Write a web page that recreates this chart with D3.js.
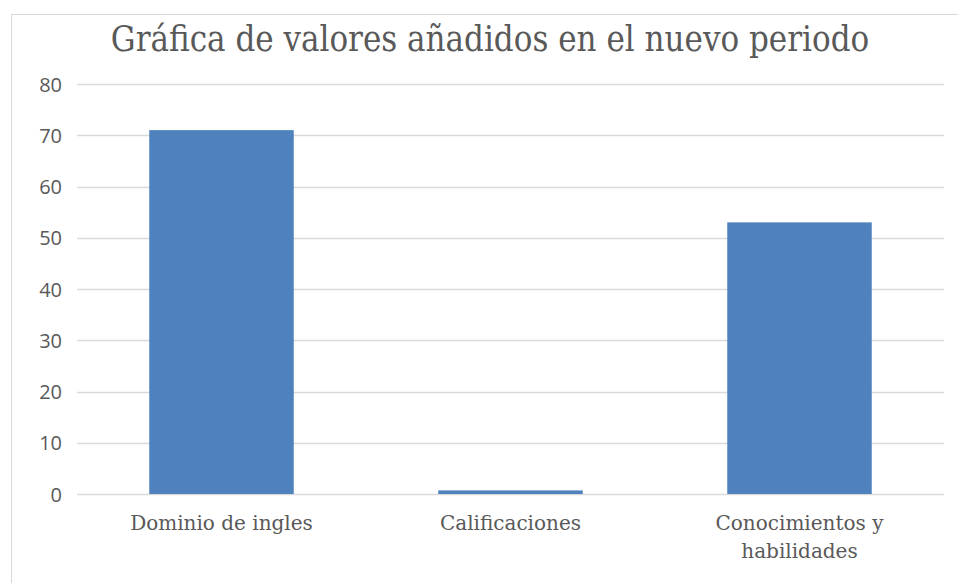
<!DOCTYPE html>
<html><head><meta charset="utf-8">
<script src="https://cdn.jsdelivr.net/npm/d3@7"></script>
<style>html,body{margin:0;padding:0;background:#fff;}svg{display:block;}</style>
</head><body>
<script>
const categories = ["Dominio de ingles", "Calificaciones", "Conocimientos y habilidades"];
const categoryLines = [["Dominio de ingles"], ["Calificaciones"], ["Conocimientos y", "habilidades"]];
const values = [71, 0.7, 53];
const yTicks = [0, 10, 20, 30, 40, 50, 60, 70, 80];
const title = "Gráfica de valores añadidos en el nuevo periodo";

const W = 958, H = 583;
const svg = d3.select("body").append("svg").attr("width", W).attr("height", H);
// chart frame
svg.append("rect").attr("x", 11.5).attr("y", 14.5).attr("width", W + 10).attr("height", H + 10)
  .attr("fill", "#fff").attr("stroke", "#d9d9d9").attr("stroke-width", 1);

const x = d3.scaleBand().domain(categories).range([77, 944]).paddingInner(0.5).paddingOuter(0.25);
const y = d3.scaleLinear().domain([0, 80]).range([494, 84]);

// gridlines
svg.append("g").selectAll("line").data(yTicks).join("line")
  .attr("x1", 77).attr("x2", 944)
  .attr("y1", d => Math.round(y(d)) + 0.5).attr("y2", d => Math.round(y(d)) + 0.5)
  .attr("stroke", "#d9d9d9").attr("stroke-width", 1.5);

// y axis labels
const yAxis = d3.axisLeft(y).tickValues(yTicks).tickSize(0).tickPadding(0);
const gy = svg.append("g").attr("transform", "translate(62,0)").call(yAxis);
gy.select(".domain").remove();
gy.selectAll("text").attr("font-family", "'Open Sans', sans-serif").attr("font-size", 20)
  .attr("fill", "#595959").attr("dy", "0.35em");

// bars
svg.append("g").selectAll("rect").data(values).join("rect")
  .attr("x", (d, i) => x(categories[i]))
  .attr("width", x.bandwidth())
  .attr("y", d => y(d))
  .attr("height", d => y(0) - y(d))
  .attr("fill", "#4f81bd");

// x labels
const xl = svg.append("g").selectAll("text").data(categories).join("text")
  .attr("x", d => x(d) + x.bandwidth() / 2)
  .attr("y", 530)
  .attr("text-anchor", "middle")
  .attr("font-family", "'DejaVu Serif', serif")
  .attr("font-size", 20)
  .attr("fill", "#595959");
xl.each(function(d, i) {
  d3.select(this).selectAll("tspan").data(categoryLines[i]).join("tspan")
    .attr("x", x(d) + x.bandwidth() / 2)
    .attr("dy", (t, j) => j === 0 ? 0 : 28)
    .text(t => t);
});

// title
svg.append("text").attr("x", 490).attr("y", 51).attr("text-anchor", "middle")
  .attr("font-family", "'DejaVu Serif Condensed', 'DejaVu Serif', serif")
  .attr("font-size", 34.5).attr("fill", "#595959")
  .text(title);
</script>
</body></html>
